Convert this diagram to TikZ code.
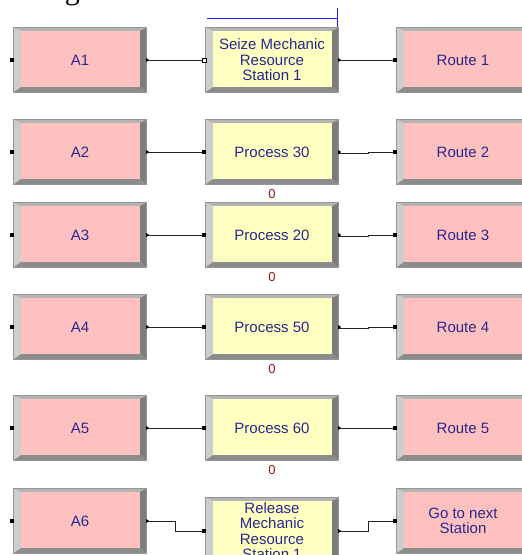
\documentclass[tikz,border=0pt]{standalone}
\usepackage{fontspec}
\setmainfont{Liberation Sans}
\newfontfamily\bodyserif{Liberation Serif}
\usetikzlibrary{calc}

\definecolor{createpink}{RGB}{255,192,192}
\definecolor{procyellow}{RGB}{255,255,194}
\definecolor{labelblue}{RGB}{40,40,140}
\definecolor{countred}{RGB}{140,25,25}
\definecolor{bevellight}{RGB}{205,205,205}
\definecolor{beveltop}{RGB}{180,180,180}
\definecolor{beveldark}{RGB}{125,125,125}
\definecolor{bevelbottom}{RGB}{140,140,140}
\definecolor{bevelrim}{RGB}{150,150,150}
\definecolor{wirecol}{RGB}{35,35,35}
\definecolor{markblue}{RGB}{30,30,255}

\tikzset{
  module/.style={rectangle, minimum width=132pt, minimum height=64pt, inner sep=0pt,
    text=labelblue, font=\fontsize{15}{15.5}\selectfont, align=center},
  pinkmod/.style={module, fill=createpink},
  yellowmod/.style={module, fill=procyellow},
  wire/.style={draw=wirecol, line width=0.8pt},
  counter/.style={text=countred, font=\fontsize{13}{13}\selectfont, inner sep=0pt},
}

% raised 3D frame around a module node
\newcommand\bevel[1]{%
  \fill[bevellight] (#1.north west) -- (#1.south west) -- ($(#1.south west)+(7,-5)$) -- ($(#1.north west)+(7,3)$) -- cycle;
  \fill[beveltop] (#1.north west) -- (#1.north east) -- ($(#1.north east)+(-6,3)$) -- ($(#1.north west)+(7,3)$) -- cycle;
  \fill[beveldark] (#1.north east) -- (#1.south east) -- ($(#1.south east)+(-6,-5)$) -- ($(#1.north east)+(-6,3)$) -- cycle;
  \fill[bevelbottom] (#1.south west) -- (#1.south east) -- ($(#1.south east)+(-6,-5)$) -- ($(#1.south west)+(7,-5)$) -- cycle;
  \draw[bevelrim, line width=0.8pt] (#1.south west) rectangle (#1.north east);
}
% entry and exit ports
\newcommand\inport[1]{\fill[black] ($(#1.west)+(-4,-2)$) rectangle ($(#1.west)+(0,2)$);}
\newcommand\openport[1]{\filldraw[fill=white, draw=black, line width=0.6pt] ($(#1.west)+(-4,-2)$) rectangle ($(#1.west)+(0,2)$);}
\newcommand\outport[1]{\fill[black] ($(#1.east)+(0,-2)$) -- ($(#1.east)+(3,0)$) -- ($(#1.east)+(0,2)$) -- cycle;}

\begin{document}
\begin{tikzpicture}[x=1pt, y=-1pt]
\useasboundingbox (0,0) rectangle (522,555);
\clip (0,0) rectangle (522,555);

% running text line above the model
\node[anchor=base west, inner sep=0pt, font=\bodyserif\fontsize{30}{30}\selectfont] (head) at (-27,-1) {selecting service stations.};

% blue marker bar
\coordinate (barl) at (207,18);
\coordinate (barr) at (337,18);
\coordinate (tickt) at (337,8);
\coordinate (tickb) at (337,27);
\draw[markblue, line width=1pt] (barl) -- (barr);
\draw[markblue, line width=1pt] (tickt) -- (tickb);

% modules
\node[pinkmod] (a1) at (80,60) {A1};
\node[yellowmod] (seize) at (272,60) {Seize Mechanic\\Resource\\Station 1};
\node[pinkmod] (r1) at (463,60) {Route 1};

\node[pinkmod] (a2) at (80,152) {A2};
\node[yellowmod] (p30) at (272,152) {Process 30};
\node[pinkmod] (r2) at (463,152) {Route 2};

\node[pinkmod] (a3) at (80,235) {A3};
\node[yellowmod] (p20) at (272,235) {Process 20};
\node[pinkmod] (r3) at (463,235) {Route 3};

\node[pinkmod] (a4) at (80,327) {A4};
\node[yellowmod] (p50) at (272,327) {Process 50};
\node[pinkmod] (r4) at (463,327) {Route 4};

\node[pinkmod] (a5) at (80,428) {A5};
\node[yellowmod] (p60) at (272,428) {Process 60};
\node[pinkmod] (r5) at (463,428) {Route 5};

\node[pinkmod] (a6) at (80,521) {A6};
\node[yellowmod, minimum height=66pt] (rel) at (272,531) {Release\\Mechanic\\Resource\\Station 1};
\node[pinkmod] (go) at (463,521) {Go to next\\Station};

\foreach \m in {a1,seize,r1,a2,p30,r2,a3,p20,r3,a4,p50,r4,a5,p60,r5,a6,rel,go} {\bevel{\m}}

% queue counters
\node[counter] (c30) at ([yshift=-9.5pt]p30.south) {0};
\node[counter] (c20) at ([yshift=-9.5pt]p20.south) {0};
\node[counter] (c50) at ([yshift=-9.5pt]p50.south) {0};
\node[counter] (c60) at ([yshift=-9.5pt]p60.south) {0};

% connections
\draw[wire] (a1.east) -- (seize.west);
\draw[wire] (seize.east) -- (r1.west);
\draw[wire] (a2.east) -- (p30.west);
\draw[wire] ([yshift=-1pt]p30.east) -- ++(30,0) |- (r2.west);
\draw[wire] (a3.east) -- (p20.west);
\draw[wire] ([yshift=-1pt]p20.east) -- ++(30,0) |- (r3.west);
\draw[wire] (a4.east) -- (p50.west);
\draw[wire] ([yshift=-1pt]p50.east) -- ++(30,0) |- (r4.west);
\draw[wire] (a5.east) -- (p60.west);
\draw[wire] (p60.east) -- (r5.west);
\draw[wire] (a6.east) -- ++(29,0) |- (rel.west);
\draw[wire] (rel.east) -- ++(30,0) |- (go.west);

% ports
\foreach \m in {a1,a2,a3,a4,a5,a6,p30,p20,p50,p60,rel,r1,r2,r3,r4,r5,go} {\inport{\m}}
\openport{seize}
\foreach \m in {a1,a2,a3,a4,a5,a6,seize,p30,p20,p50,p60,rel} {\outport{\m}}
\end{tikzpicture}
\end{document}
